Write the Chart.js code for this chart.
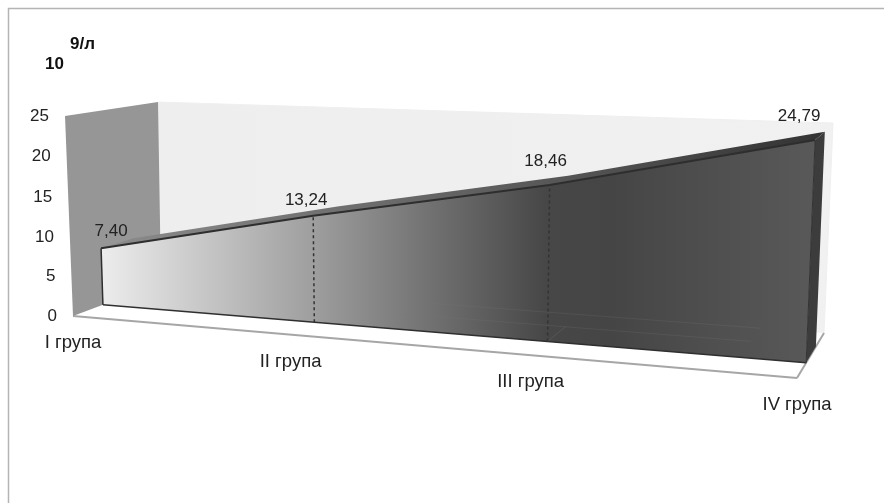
<!DOCTYPE html>
<html>
<head>
<meta charset="utf-8">
<style>
  html, body { margin: 0; background: #fff; overflow: hidden; }
  canvas { display: block; }
</style>
<script src="https://cdn.jsdelivr.net/npm/chart.js@4"></script>
</head>
<body>
<canvas id="chart" width="884" height="503"></canvas>
<script>
const categories = ['I група', 'II група', 'III група', 'IV група'];
const values = [7.40, 13.24, 18.46, 24.79];
const baseline = [0, 0, 0, 0];
const yTicks = [0, 5, 10, 15, 20, 25];
const yMax = 25;

// corners of the 3D box on screen: floor left, floor right, top right, top left
const nearPlane = [[73, 316], [797, 378], [806, 146], [65, 116]];
const farPlane = [[161, 283], [824, 333], [833, 123], [158, 102]];
// the area is a slab standing between these two depths
const slabFront = 0.34;
const slabBack = 0.7;
const labelFont = '17px "Liberation Sans"';

function planeMap(q) {
  const [[x0, y0], [x1, y1], [x2, y2], [x3, y3]] = q;
  const dx1 = x1 - x2, dx2 = x3 - x2, sx = x0 - x1 + x2 - x3;
  const dy1 = y1 - y2, dy2 = y3 - y2, sy = y0 - y1 + y2 - y3;
  const den = dx1 * dy2 - dx2 * dy1;
  const g = (sx * dy2 - dx2 * sy) / den;
  const h = (dx1 * sy - sx * dy1) / den;
  return (u, v) => {
    const k = g * u + h * v + 1;
    return [
      ((x1 - x0 + g * x1) * u + (x3 - x0 + h * x3) * v + x0) / k,
      ((y1 - y0 + g * y1) * u + (y3 - y0 + h * y3) * v + y0) / k
    ];
  };
}

const nearMap = planeMap(nearPlane);
const farMap = planeMap(farPlane);

// category index + value + depth -> canvas position
function project(t, value, depth) {
  const u = t / (categories.length - 1);
  const v = value / yMax;
  const a = nearMap(u, v), b = farMap(u, v);
  return [a[0] + (b[0] - a[0]) * depth, a[1] + (b[1] - a[1]) * depth];
}

function poly(ctx, pts, fill, stroke, width) {
  ctx.beginPath();
  pts.forEach((p, i) => i ? ctx.lineTo(p[0], p[1]) : ctx.moveTo(p[0], p[1]));
  ctx.closePath();
  if (fill) { ctx.fillStyle = fill; ctx.fill(); }
  if (stroke) { ctx.strokeStyle = stroke; ctx.lineWidth = width; ctx.stroke(); }
}

function segment(ctx, a, b, color, width, dash) {
  ctx.save();
  ctx.setLineDash(dash || []);
  ctx.strokeStyle = color;
  ctx.lineWidth = width;
  ctx.beginPath();
  ctx.moveTo(a[0], a[1]);
  ctx.lineTo(b[0], b[1]);
  ctx.stroke();
  ctx.restore();
}

const canvas = document.querySelector('#chart');
const c2d = canvas.getContext('2d');
const lastT = categories.length - 1;

const frontFill = c2d.createLinearGradient(project(0, 0, slabFront)[0], 0, project(lastT, 0, slabFront)[0], 0);
frontFill.addColorStop(0, '#ececec');
frontFill.addColorStop(0.3, '#9e9e9e');
frontFill.addColorStop(0.47, '#707070');
frontFill.addColorStop(0.63, '#474747');
frontFill.addColorStop(0.72, '#454545');
frontFill.addColorStop(1, '#585858');

const topFill = c2d.createLinearGradient(100, 0, 825, 0);
topFill.addColorStop(0, '#8c8c8c');
topFill.addColorStop(0.35, '#6e6e6e');
topFill.addColorStop(0.65, '#555555');
topFill.addColorStop(1, '#333333');

const wallFill = c2d.createLinearGradient(160, 0, 833, 0);
wallFill.addColorStop(0, '#eeeeee');
wallFill.addColorStop(1, '#f1f1f1');

function pointsOf(chart, i) {
  return chart.getDatasetMeta(i).data.map(pt => [pt.x, pt.y]);
}

const box3d = {
  id: 'box3d',
  // move the line points from the flat scales into the box
  afterDatasetsUpdate(chart) {
    chart.data.datasets.forEach((ds, i) => {
      const meta = chart.getDatasetMeta(i);
      meta.data.forEach((pt, j) => {
        const parsed = meta.controller.getParsed(j);
        const p = project(parsed.x, parsed.y, ds.depth);
        pt.x = p[0];
        pt.y = p[1];
      });
    });
  },
  beforeDraw(chart) {
    const ctx = chart.ctx;
    // outer frame, open on the right and at the bottom
    ctx.save();
    ctx.strokeStyle = '#b4b4b4';
    ctx.lineWidth = 1.5;
    ctx.beginPath();
    ctx.moveTo(8.5, 503);
    ctx.lineTo(8.5, 8.5);
    ctx.lineTo(884, 8.5);
    ctx.stroke();
    ctx.restore();

    // axis labels follow the edges of the box
    chart.scales.y.getLabelItems().forEach((item, i) => {
      const p = project(0, yTicks[i], 0);
      item.options.translation = [p[0] - 16, p[1]];
      item.options.textAlign = 'right';
      item.options.textBaseline = 'middle';
      item.textOffset = 0;
    });
    chart.scales.x.getLabelItems().forEach((item, i) => {
      const p = project(i, 0, 0);
      item.options.translation = [p[0], p[1] + 27];
      item.options.textAlign = 'center';
      item.options.textBaseline = 'middle';
      item.textOffset = 0;
    });
  },
  beforeDatasetsDraw(chart) {
    const ctx = chart.ctx;
    ctx.save();
    ctx.lineJoin = 'round';
    poly(ctx, [project(0, 0, 1), project(lastT, 0, 1), project(lastT, yMax, 1), project(0, yMax, 1)], wallFill, '#efefef', 1);
    poly(ctx, [project(0, 0, 0), project(lastT, 0, 0), project(lastT, 0, 1), project(0, 0, 1)], '#ffffff', null);
    segment(ctx, project(0, 0, 0), project(lastT, 0, 0), '#a6a6a6', 2);
    segment(ctx, project(lastT, 0, 0), project(lastT, 0, 1), '#a6a6a6', 2);
    poly(ctx, [project(0, 0, 0), project(0, yMax, 0), project(0, yMax, 1), project(0, 0, 1)], '#969696', null);

    // faces of the slab, spanned between the dataset lines
    const base = pointsOf(chart, 0);
    const front = pointsOf(chart, 1);
    const back = pointsOf(chart, 2);
    const end = values[lastT];
    poly(ctx, front.concat(back.slice().reverse()), topFill, null);
    poly(ctx, [project(lastT, 0, slabFront), project(lastT, end, slabFront), project(lastT, end, slabBack), project(lastT, 0, slabBack)], '#3c3c3c', null);
    poly(ctx, front.concat(base.slice().reverse()), frontFill, null);
    ctx.restore();
  },
  afterDatasetsDraw(chart) {
    const ctx = chart.ctx;
    const end = values[lastT];
    ctx.save();
    ctx.lineJoin = 'round';
    // floor edges showing faintly through the front face
    segment(ctx, project(1.3, 0, 1), project(2.75, 0, 1), 'rgba(120,120,120,0.22)', 1);
    segment(ctx, project(1.3, 0, slabBack), project(2.75, 0, slabBack), 'rgba(120,120,120,0.22)', 1);
    segment(ctx, project(2, 0, slabFront), project(2, 0, slabBack), 'rgba(120,120,120,0.3)', 1);
    // drop lines under the inner categories
    for (let i = 1; i < lastT; i++) {
      segment(ctx, project(i, 0, slabFront), project(i, values[i], slabFront), '#333333', 1.5, [3, 3]);
    }
    segment(ctx, project(0, 0, slabFront), project(0, values[0], slabFront), '#2f2f2f', 1.5);
    segment(ctx, project(lastT, 0, slabFront), project(lastT, end, slabFront), '#333333', 1);

    // value labels
    ctx.font = labelFont;
    ctx.fillStyle = '#222222';
    ctx.textAlign = 'center';
    ctx.textBaseline = 'middle';
    const shift = [[10, -17], [-7, -15], [-4, -24], [-16, -24]];
    values.forEach((v, i) => {
      const p = project(i, v, slabFront);
      ctx.fillText(v.toFixed(2).replace('.', ','), p[0] + shift[i][0], p[1] + shift[i][1]);
    });

    // unit above the value axis
    ctx.font = 'bold 17px "Liberation Sans"';
    ctx.fillStyle = '#111111';
    ctx.textAlign = 'left';
    ctx.fillText('9/л', 70, 44);
    ctx.fillText('10', 45, 64);
    ctx.restore();
  }
};

new Chart(canvas, {
  type: 'line',
  data: {
    labels: categories,
    datasets: [
      {
        label: 'base',
        data: baseline,
        depth: slabFront,
        borderColor: '#2f2f2f',
        borderWidth: 1.5,
        pointRadius: 0,
        clip: false,
        fill: false
      },
      {
        label: 'front',
        data: values,
        depth: slabFront,
        borderColor: '#2e2e2e',
        borderWidth: 2,
        pointRadius: 0,
        clip: false,
        fill: false
      },
      {
        label: 'top',
        data: values,
        depth: slabBack,
        borderColor: 'rgba(0,0,0,0)',
        borderWidth: 0,
        pointRadius: 0,
        clip: false,
        fill: false
      }
    ]
  },
  options: {
    responsive: false,
    animation: false,
    layout: { padding: 0 },
    plugins: {
      legend: { display: false },
      title: { display: false },
      tooltip: { enabled: false }
    },
    scales: {
      x: {
        offset: false,
        grid: { display: false },
        border: { display: false },
        // mirror keeps the moved labels from being clipped to the axis box
        ticks: { mirror: true, autoSkip: false, maxRotation: 0, color: '#222222', font: { family: 'Liberation Sans', size: 18.5 } }
      },
      y: {
        min: 0,
        max: yMax,
        grid: { display: false },
        border: { display: false },
        ticks: { mirror: true, stepSize: 5, color: '#222222', font: { family: 'Liberation Sans', size: 17 } }
      }
    }
  },
  plugins: [box3d]
});
</script>
</body>
</html>
